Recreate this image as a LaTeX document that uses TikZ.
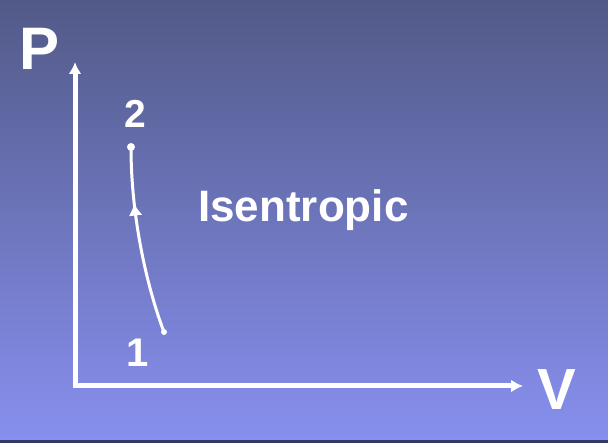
\documentclass[tikz,border=0pt]{standalone}
\usepackage{fontspec}
\setmainfont{Liberation Sans}
\usepackage{xcolor}
\usetikzlibrary{arrows.meta, decorations.markings}
\definecolor{slidetop}{HTML}{525A88}
\definecolor{slidebot}{HTML}{8890F0}
\definecolor{slideedge}{HTML}{313A62}

\begin{document}
\begin{tikzpicture}[x=1pt, y=-1pt, >=Stealth,
    axis/.style={line width=5pt, white, -{Latex[length=12pt, width=13pt]}},
    lbl/.style={text=white, font=\bfseries, anchor=base, inner sep=0pt},
    statept/.style={circle, fill=white, inner sep=0pt, minimum size=#1}]
  \useasboundingbox (0,0) rectangle (608,443);
  \shade[top color=slidetop, bottom color=slidebot] (0,0) rectangle (608,443);
  \fill[slideedge] (0,440) rectangle (608,443);
  % axes
  \coordinate (origin) at (75,386);
  \coordinate (ptop) at (75,62);
  \coordinate (vend) at (523,386);
  \draw[axis] ([yshift=2.5pt]origin) -- (ptop);
  \draw[axis] ([xshift=-2.5pt]origin) -- (vend);
  \node[lbl, font=\bfseries\fontsize{60}{60}\selectfont] (plabel) at (40,70) {P};
  \node[lbl, font=\bfseries\fontsize{58}{58}\selectfont] (vlabel) at (557,410) {V};
  % states and process
  \node[statept=6pt] (s1) at (164,332) {};
  \node[statept=8pt] (s2) at (131,147) {};
  \node[lbl, font=\bfseries\fontsize{39}{39}\selectfont] (n2) at (135,128) {2};
  \node[lbl, font=\bfseries\fontsize{40}{40}\selectfont] (n1) at (138,367) {1};
  \draw[white, line width=3pt, decoration={markings,
      mark=at position 0.7 with {\arrow{Latex[length=12pt, width=14pt]}}},
      postaction={decorate}]
    (s1.center) .. controls (148,290) and (131,220) .. (s2.center);
  \node[lbl, anchor=base west, font=\bfseries\fontsize{44}{44}\selectfont] (proc) at (198,222) {Isentropic};
\end{tikzpicture}
\end{document}
